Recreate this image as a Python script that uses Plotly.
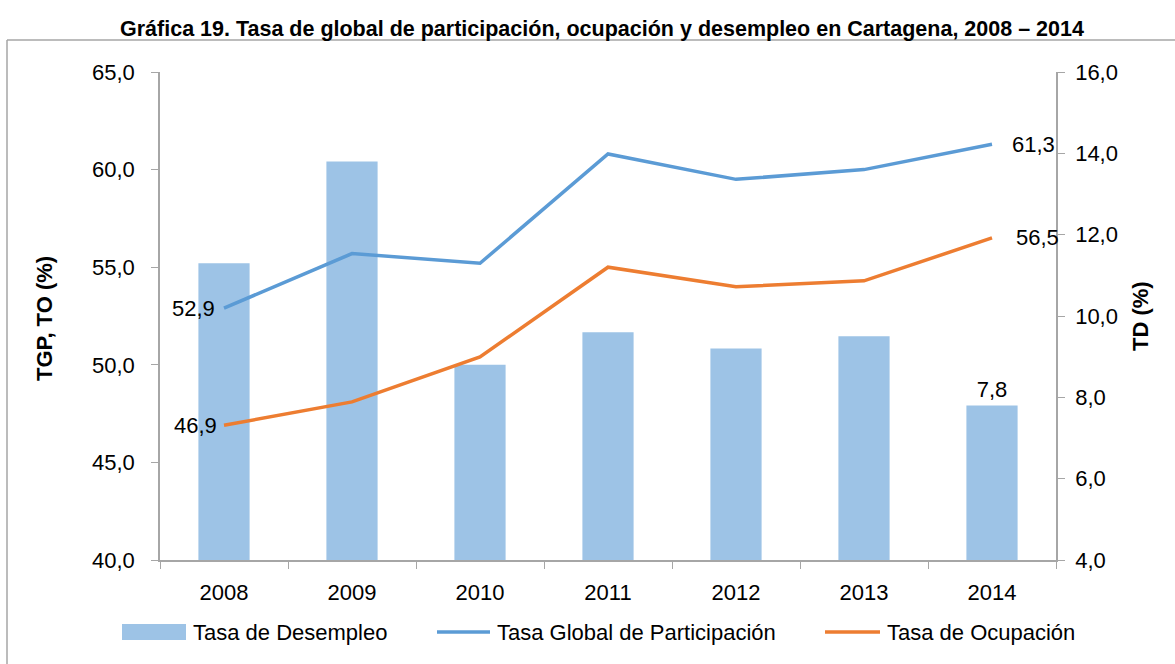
import plotly.graph_objects as go

years = ["2008", "2009", "2010", "2011", "2012", "2013", "2014"]
td = [11.3, 13.8, 8.8, 9.6, 9.2, 9.5, 7.8]
tgp = [52.9, 55.7, 55.2, 60.8, 59.5, 60.0, 61.3]
to = [46.9, 48.1, 50.4, 55.0, 54.0, 54.3, 56.5]

left_ticks = [40, 45, 50, 55, 60, 65]
right_ticks = [4, 6, 8, 10, 12, 14, 16]

names = ["Tasa de Desempleo", "Tasa Global de Participación", "Tasa de Ocupación"]
colors = ["#9DC3E6", "#5B9BD5", "#ED7D31"]

FONT = "Liberation Sans Narrow, Arial Narrow, Liberation Sans, Arial"
AXC = "#A6A6A6"
W, H = 1175, 664
L, R, T, B = 160, 1056, 72, 560


def px(x):
    return (x - L) / (R - L)


def py(y):
    return (B - y) / (B - T)


def fmt(v):
    return f"{v:.1f}".replace(".", ",")


fig = go.Figure()
fig.add_trace(go.Bar(
    x=years, y=td, name=names[0], yaxis="y",
    marker=dict(color=colors[0], line=dict(width=0)), width=0.4,
    text=[fmt(v) if i == len(td) - 1 else "" for i, v in enumerate(td)],
    textposition="outside", cliponaxis=False,
    textfont=dict(size=22, color="black", family=FONT), showlegend=False,
))
for vals, nm, col in [(tgp, names[1], colors[1]), (to, names[2], colors[2])]:
    fig.add_trace(go.Scatter(
        x=years, y=vals, name=nm, mode="lines", yaxis="y2",
        line=dict(color=col, width=3.5), cliponaxis=False, showlegend=False,
    ))

annotations = [
    dict(text="<b>Gráfica 19. Tasa de global de participación, ocupación y desempleo en Cartagena, 2008 – 2014</b>",
         xref="paper", yref="paper", x=px(602), y=py(29),
         xanchor="center", yanchor="middle", showarrow=False,
         font=dict(size=21.5, family=FONT)),
    dict(text="<b>TGP, TO (%)</b>", textangle=-90, xref="paper", yref="paper",
         x=px(44), y=py(318), xanchor="center", yanchor="middle",
         showarrow=False, font=dict(size=22, family=FONT)),
    dict(text="<b>TD (%)</b>", textangle=-90, xref="paper", yref="paper",
         x=px(1140), y=py(316), xanchor="center", yanchor="middle",
         showarrow=False, font=dict(size=22, family=FONT)),
]
# end-point data labels of the lines (category index positions)
first, last = 0, len(years) - 1
for vals, xs_first, xs_last in [(tgp, -7, 18), (to, -5, 22)]:
    annotations.append(dict(text=fmt(vals[first]), x=first, y=vals[first], xref="x", yref="y2",
                            xanchor="right", yanchor="middle", xshift=xs_first,
                            showarrow=False, font=dict(size=22, family=FONT)))
    annotations.append(dict(text=fmt(vals[last]), x=last, y=vals[last], xref="x", yref="y2",
                            xanchor="left", yanchor="middle", xshift=xs_last,
                            showarrow=False, font=dict(size=22, family=FONT)))

shapes = [
    dict(type="line", xref="paper", yref="paper", x0=px(7), x1=px(W),
         y0=py(40), y1=py(40), line=dict(color=AXC, width=1.5)),
    dict(type="line", xref="paper", yref="paper", x0=px(7), x1=px(7),
         y0=py(40), y1=py(H), line=dict(color=AXC, width=1.5)),
]

# custom legend
LEG_Y = 632
leg = [(122, 186, 191), (437, 490, 495), (825, 880, 885)]
for i, (x0, x1, xt) in enumerate(leg):
    if i == 0:
        shapes.append(dict(type="rect", xref="paper", yref="paper", x0=px(x0), x1=px(x1),
                           y0=py(LEG_Y + 8), y1=py(LEG_Y - 8),
                           fillcolor=colors[0], line=dict(width=0)))
    else:
        shapes.append(dict(type="line", xref="paper", yref="paper", x0=px(x0), x1=px(x1),
                           y0=py(LEG_Y), y1=py(LEG_Y),
                           line=dict(color=colors[i], width=3.5)))
    annotations.append(dict(text=names[i], xref="paper", yref="paper", x=px(xt), y=py(LEG_Y),
                            xanchor="left", yanchor="middle", showarrow=False,
                            font=dict(size=22, family=FONT)))

fig.update_layout(
    width=W, height=H,
    margin=dict(l=L, r=W - R, t=T, b=H - B),
    paper_bgcolor="white", plot_bgcolor="white",
    font=dict(family=FONT, size=22, color="black"),
    showlegend=False,
    xaxis=dict(type="category", range=[-0.5, len(years) - 0.5],
               showline=True, linecolor=AXC, linewidth=1.5,
               ticks="outside", tickson="boundaries", ticklen=7, tickcolor=AXC,
               showgrid=False, tickfont=dict(size=22), ticklabelstandoff=12),
    yaxis=dict(range=[4, 16], tickvals=right_ticks,
               ticktext=[fmt(v) for v in right_ticks], side="right",
               showline=True, linecolor=AXC, linewidth=1.5, ticks="outside",
               ticklen=7, tickcolor=AXC, showgrid=False, zeroline=False,
               tickfont=dict(size=22), ticklabelstandoff=6),
    yaxis2=dict(range=[40, 65], tickvals=left_ticks,
                ticktext=[fmt(v) for v in left_ticks],
                overlaying="y", side="left", showline=True, linecolor=AXC,
                linewidth=1.5, ticks="outside", ticklen=7, tickcolor=AXC,
                showgrid=False, zeroline=False, tickfont=dict(size=22),
                ticklabelstandoff=12),
    annotations=annotations,
    shapes=shapes,
)

fig.write_html("out.html", config={"displayModeBar": False},
               post_script="document.body.style.margin='0px';")
